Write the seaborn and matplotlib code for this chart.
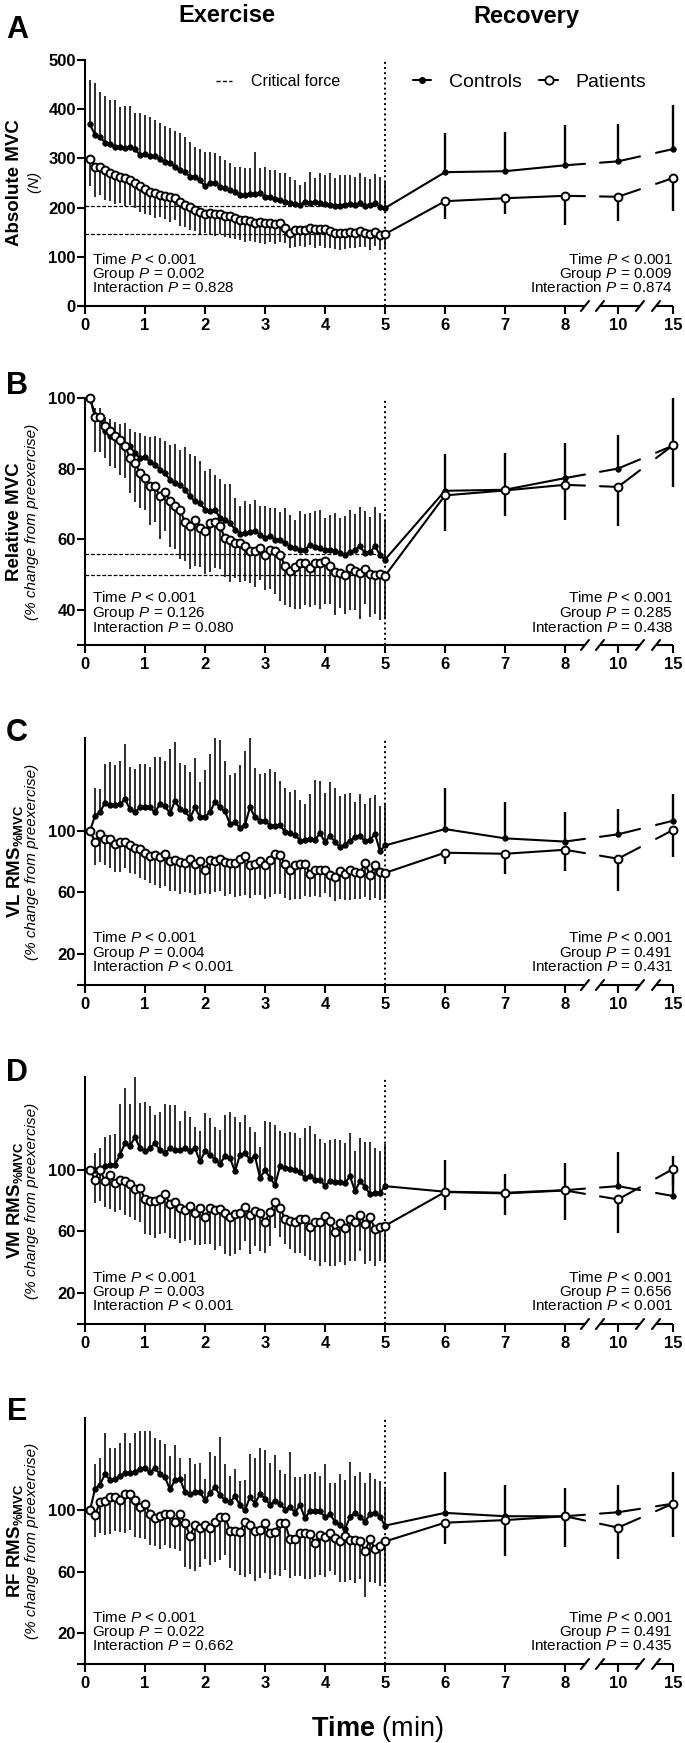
import matplotlib

matplotlib.use("agg")  # no display in the sandbox

import numpy as np
import pandas as pd
import matplotlib.pyplot as plt
import seaborn as sns
from matplotlib.lines import Line2D

# ---------------------------------------------------------------------
# Data. Exercise: one value every 5 s, 5 s .. 300 s
# Recovery: minutes 6, 7, 8, 10, 15. Controls SD drawn up, patients SD down.
# ---------------------------------------------------------------------
ex_time = np.arange(5, 301, 5) / 60
rec_time = [6, 7, 8, 10, 15]

a_ctrl_ex = [369, 348, 344, 332, 329, 324, 324, 322, 323, 319, 307, 308, 305, 304, 298,
             293, 291, 283, 276, 273, 262, 263, 256, 243, 249, 251, 241, 239, 236, 232,
             226, 226, 228, 227, 229, 222, 221, 218, 215, 212, 209, 207, 205, 211, 209,
             211, 209, 207, 206, 204, 204, 206, 207, 205, 210, 204, 205, 209, 201, 199]
a_ctrl_ex_sd = [91, 105, 90, 94, 90, 95, 81, 84, 83, 74, 85, 80, 79, 74, 73,
                73, 70, 73, 75, 71, 72, 61, 64, 71, 65, 59, 63, 58, 55, 51,
                57, 54, 52, 87, 51, 61, 55, 59, 55, 58, 54, 49, 41, 42, 64,
                49, 61, 59, 64, 56, 62, 60, 59, 57, 60, 58, 53, 59, 61, 56]
a_pat_ex = [299, 283, 283, 276, 271, 266, 263, 260, 257, 249, 244, 237, 232, 229, 226,
            224, 222, 219, 212, 205, 201, 195, 191, 188, 190, 188, 188, 183, 182, 178,
            175, 174, 173, 169, 170, 168, 168, 166, 168, 158, 149, 155, 155, 155, 158,
            156, 156, 156, 153, 148, 148, 148, 151, 148, 152, 149, 146, 150, 145, 146]
a_pat_ex_sd = [56, 62, 58, 60, 57, 58, 54, 56, 52, 50, 52, 49, 47, 50, 46,
               48, 51, 45, 49, 44, 46, 42, 44, 40, 43, 45, 41, 43, 44, 42,
               40, 44, 41, 39, 42, 41, 38, 40, 37, 30, 32, 35, 33, 36, 34,
               38, 35, 39, 36, 33, 35, 32, 34, 31, 33, 30, 32, 29, 31, 29]
a_ctrl_rec = [272, 274, 286, 294, 319]
a_ctrl_rec_sd = [79, 79, 81, 75, 90]
a_pat_rec = [213, 219, 224, 222, 260]
a_pat_rec_sd = [36, 31, 59, 49, 67]

b_ctrl_ex = [100, 95.3, 94.3, 90.6, 89.1, 89.1, 87.7, 86.8, 86.3, 84.4, 83.0, 83.2, 82.0, 81.1, 79.7,
             78.7, 76.8, 75.9, 75.4, 74.0, 72.1, 70.7, 70.2, 68.3, 67.9, 68.3, 66.0, 65.5, 64.6, 62.7,
             61.5, 61.7, 61.9, 62.2, 61.3, 60.3, 60.8, 59.8, 59.8, 58.9, 57.8, 57.5, 57.0, 57.0, 58.4,
             57.9, 57.4, 57.0, 56.8, 56.5, 56.1, 55.6, 56.3, 57.0, 58.0, 56.0, 56.3, 58.0, 55.5, 54.2]
b_ctrl_ex_sd = [0, 2, 3, 4, 5, 4, 5, 6, 5, 6, 7, 6, 7, 8, 9,
                9, 10, 11, 10, 12, 12, 13, 12, 11, 12, 10, 11, 10, 11, 9,
                8, 9, 8, 9, 8, 9, 8, 9, 8, 10, 9, 8, 11, 10, 9,
                10, 11, 9, 10, 11, 10, 11, 12, 10, 11, 12, 10, 11, 12, 11]
b_pat_ex = [100, 94.6, 94.6, 92.0, 90.6, 89.1, 88.2, 86.3, 83.0, 81.6, 78.7, 77.3, 75.0, 75.0, 72.1,
            73.3, 70.7, 69.3, 68.3, 64.8, 63.6, 65.5, 63.1, 62.2, 64.6, 64.8, 63.6, 60.3, 59.8, 58.9,
            58.9, 58.1, 56.5, 56.5, 57.5, 55.6, 57.0, 56.5, 55.6, 52.3, 50.9, 52.1, 53.2, 53.2, 51.8,
            53.2, 53.2, 53.7, 52.5, 50.6, 50.4, 49.9, 51.8, 51.0, 50.5, 51.5, 50.0, 49.7, 50.2, 49.6]
b_pat_ex_sd = [0, 10, 10, 9, 10, 9, 10, 9, 10, 11, 10, 9, 11, 10, 12,
               11, 13, 12, 14, 11, 12, 13, 11, 12, 14, 13, 12, 11, 12, 10,
               11, 10, 9, 10, 9, 10, 11, 12, 13, 11, 10, 12, 13, 12, 11,
               12, 13, 12, 11, 12, 10, 11, 12, 11, 13, 10, 12, 11, 13, 12]
b_ctrl_rec = [73.7, 74.0, 77.3, 80.0, 86.5]
b_ctrl_rec_sd = [10.5, 10.4, 9.9, 9.6, 13.5]
b_pat_rec = [72.4, 73.8, 75.4, 74.8, 86.6]
b_pat_rec_sd = [10.0, 7.3, 9.9, 11.2, 11.9]

c_ctrl_ex = [100, 109.6, 111.8, 118.2, 116.7, 116.7, 117.1, 120.3, 113.9, 111.8, 115.0, 115.4, 115.0, 111.8, 117.5,
             116.0, 111.1, 119.3, 113.9, 112.8, 108.1, 115.0, 108.6, 109.0, 111.8, 118.8, 115.0, 112.4, 104.3, 105.3,
             101.7, 103.9, 115.0, 108.6, 106.4, 106.4, 103.2, 103.2, 103.9, 98.9, 98.3, 97.4, 93.6, 94.0, 94.7,
             94.0, 98.3, 92.5, 96.8, 92.5, 89.3, 91.0, 93.6, 95.7, 96.8, 93.0, 94.0, 97.9, 86.7, 90.4]
c_ctrl_ex_sd = [0, 18, 15, 25, 28, 26, 28, 36, 27, 28, 28, 28, 26, 36, 30,
                29, 42, 38, 30, 30, 30, 32, 23, 30, 38, 41, 44, 33, 32, 32,
                41, 48, 45, 32, 30, 31, 37, 35, 28, 29, 27, 29, 26, 23, 29,
                39, 34, 32, 35, 35, 33, 33, 31, 23, 27, 24, 27, 25, 29, 27]
c_pat_ex = [100, 92.5, 97.9, 94.7, 94.7, 91.4, 92.5, 92.5, 90.4, 88.7, 88.2, 85.7, 83.3, 84.0, 82.9,
            85.0, 80.1, 81.2, 79.7, 79.0, 81.4, 78.6, 80.1, 74.3, 81.2, 80.1, 81.8, 79.7, 79.0, 79.0,
            81.8, 83.3, 77.5, 78.6, 80.3, 77.5, 80.7, 85.0, 84.0, 78.6, 74.8, 77.5, 78.6, 78.6, 72.2,
            74.8, 74.8, 74.8, 71.1, 70.1, 73.9, 72.2, 74.3, 73.5, 72.5, 79.0, 71.0, 77.5, 73.0, 72.6]
c_pat_ex_sd = [0, 15, 18, 17, 19, 18, 19, 17, 18, 17, 19, 18, 17, 19, 20,
               21, 19, 20, 21, 19, 22, 20, 21, 15, 22, 20, 21, 22, 20, 22,
               24, 25, 21, 20, 22, 22, 24, 26, 25, 22, 20, 22, 23, 21, 15,
               17, 18, 15, 14, 16, 18, 17, 19, 18, 17, 22, 16, 21, 18, 17]
c_ctrl_rec = [101.0, 95.0, 92.9, 97.6, 106.4]
c_ctrl_rec_sd = [26.4, 23.6, 18.9, 16.3, 17.1]
c_pat_rec = [85.7, 85.0, 87.6, 81.8, 100.4]
c_pat_rec_sd = [7.5, 12.8, 13.7, 20.8, 17.5]

d_ctrl_ex = [100, 100.0, 101.0, 102.1, 103.2, 103.2, 109.6, 117.1, 115.4, 121.0, 113.9, 111.8, 113.9, 117.1, 112.4,
             110.7, 113.9, 112.8, 112.8, 113.9, 111.8, 113.9, 105.3, 111.8, 109.6, 106.4, 103.9, 108.6, 107.5, 98.9,
             109.6, 110.7, 106.4, 108.6, 94.7, 99.6, 94.7, 90.0, 102.1, 101.0, 100.4, 100.0, 98.3, 94.7, 96.1,
             93.2, 93.6, 89.3, 92.5, 91.9, 91.9, 91.4, 95.7, 86.1, 92.5, 89.0, 84.0, 85.0, 85.0, 89.3]
d_ctrl_ex_sd = [0, 11, 13, 19, 19, 20, 33, 36, 27, 39, 29, 32, 27, 18, 25,
                32, 28, 29, 19, 24, 22, 14, 20, 25, 24, 21, 22, 27, 30, 35,
                21, 25, 21, 16, 20, 32, 36, 39, 23, 23, 24, 24, 22, 32, 32,
                30, 26, 28, 27, 28, 27, 26, 28, 26, 28, 29, 34, 29, 27, 27]
d_pat_ex = [100, 93.6, 100.0, 92.5, 96.8, 91.4, 93.6, 92.5, 90.4, 87.2, 87.8, 81.2, 79.7, 79.7, 81.2,
            84.0, 77.5, 79.3, 75.4, 73.9, 76.5, 72.2, 75.4, 69.0, 75.0, 73.9, 74.3, 72.2, 69.0, 71.1,
            72.2, 76.0, 70.5, 73.3, 71.6, 66.2, 72.6, 79.0, 75.4, 67.9, 66.8, 66.2, 67.9, 67.9, 62.6,
            65.8, 65.8, 70.1, 66.8, 59.4, 65.3, 61.9, 67.9, 66.0, 70.5, 65.0, 69.0, 61.5, 63.0, 63.6]
d_pat_ex_sd = [0, 15, 20, 17, 22, 19, 20, 22, 21, 20, 22, 23, 22, 24, 23,
               25, 22, 24, 23, 20, 22, 21, 24, 17, 23, 26, 24, 27, 25, 26,
               24, 22, 25, 23, 24, 20, 22, 17, 19, 16, 18, 20, 22, 24, 21,
               25, 28, 30, 29, 22, 25, 24, 27, 25, 23, 26, 28, 24, 22, 24]
d_ctrl_rec = [85.7, 85.0, 86.7, 89.3, 82.9]
d_ctrl_rec_sd = [20.7, 12.4, 17.6, 22.0, 25.7]
d_pat_rec = [85.5, 84.6, 86.5, 80.7, 100.4]
d_pat_rec_sd = [11.6, 13.9, 19.0, 22.0, 11.0]

e_ctrl_ex = [100, 113.9, 116.7, 123.5, 119.7, 120.3, 122.5, 124.0, 124.0, 125.2, 126.7, 127.8, 124.6, 127.2, 123.5,
             121.4, 113.5, 119.7, 120.3, 111.8, 110.3, 111.8, 111.8, 106.4, 111.1, 115.0, 109.6, 106.8, 105.3, 109.0,
             103.2, 100.0, 108.6, 104.3, 110.7, 107.5, 103.6, 106.0, 104.3, 100.4, 102.1, 98.5, 103.4, 94.7, 99.6,
             99.6, 99.6, 95.3, 97.4, 92.5, 90.4, 87.6, 95.7, 98.3, 95.7, 92.5, 97.4, 98.3, 95.7, 90.0]
e_ctrl_ex_sd = [0, 16, 17, 27, 21, 20, 21, 26, 20, 25, 25, 24, 27, 20, 22,
                22, 22, 23, 14, 12, 24, 18, 19, 14, 27, 20, 38, 23, 17, 18,
                16, 20, 28, 30, 30, 32, 27, 30, 22, 23, 36, 23, 18, 29, 24,
                25, 23, 35, 20, 25, 33, 32, 36, 24, 29, 25, 27, 22, 23, 24]
e_pat_ex = [100, 96.8, 105.3, 106.0, 108.6, 108.6, 106.8, 110.3, 110.3, 106.8, 102.1, 104.3, 97.4, 94.7, 96.1,
            97.4, 97.4, 92.5, 97.4, 91.4, 83.5, 90.4, 88.2, 90.4, 88.2, 92.5, 95.7, 95.7, 86.7, 86.7,
            86.1, 92.5, 90.4, 86.7, 87.2, 91.4, 85.0, 86.1, 91.4, 91.4, 81.2, 81.2, 85.0, 85.0, 84.6,
            78.6, 84.0, 82.5, 85.5, 81.8, 80.3, 83.3, 80.7, 80.7, 80.1, 73.3, 81.2, 74.8, 76.9, 79.7]
e_pat_ex_sd = [0, 14, 20, 22, 24, 22, 21, 25, 23, 24, 20, 23, 20, 18, 21,
               20, 22, 18, 24, 28, 22, 30, 25, 22, 24, 26, 28, 25, 24, 26,
               28, 36, 32, 33, 31, 32, 30, 28, 34, 30, 25, 24, 28, 30, 29,
               22, 26, 26, 25, 24, 27, 30, 26, 28, 25, 30, 28, 22, 26, 27]
e_ctrl_rec = [98.3, 96.1, 96.1, 98.7, 104.3]
e_ctrl_rec_sd = [26.9, 20.4, 18.2, 18.0, 20.3]
e_pat_rec = [91.9, 93.6, 96.1, 88.7, 104.3]
e_pat_rec_sd = [13.7, 23.1, 20.3, 20.4, 21.4]

crit_force_a = [203, 146]
crit_force_b = [55.8, 49.7]

stats_left = {
    "A": ["< 0.001", "= 0.002", "= 0.828"],
    "B": ["< 0.001", "= 0.126", "= 0.080"],
    "C": ["< 0.001", "= 0.004", "< 0.001"],
    "D": ["< 0.001", "= 0.003", "< 0.001"],
    "E": ["< 0.001", "= 0.022", "= 0.662"],
}
stats_right = {
    "A": ["< 0.001", "= 0.009", "= 0.874"],
    "B": ["< 0.001", "= 0.285", "= 0.438"],
    "C": ["< 0.001", "= 0.491", "= 0.431"],
    "D": ["< 0.001", "= 0.656", "< 0.001"],
    "E": ["< 0.001", "= 0.491", "= 0.435"],
}
stat_names = ["Time", "Group", "Interaction"]

# ---------------------------------------------------------------------
# Style
# ---------------------------------------------------------------------
sns.set_style("ticks", {"axes.edgecolor": "black", "xtick.color": "black",
                        "ytick.color": "black", "text.color": "black",
                        "axes.labelcolor": "black"})
plt.rcParams["font.family"] = ["Liberation Sans", "DejaVu Sans"]
plt.rcParams["mathtext.fontset"] = "custom"
plt.rcParams["mathtext.rm"] = "Liberation Sans"
plt.rcParams["mathtext.it"] = "Liberation Sans:italic"
plt.rcParams["mathtext.bf"] = "Liberation Sans:bold"

W, H = 685, 1743
fig = plt.figure(figsize=(W / 100, H / 100), dpi=100)

# broken x axis: minutes 10 and 15 squeezed after 8
rec_pos = {6: 6, 7: 7, 8: 8, 10: 8.883, 15: 9.8}
GAPS = [(8.333, 8.583), (9.25, 9.517)]
XMAX = 9.8


def broken(xs, ys):
    xo, yo = [xs[0]], [ys[0]]
    for x0, y0, x1, y1 in zip(xs[:-1], ys[:-1], xs[1:], ys[1:]):
        for g0, g1 in GAPS:
            if x0 < g0 and x1 > g1:
                ya = y0 + (y1 - y0) * (g0 - x0) / (x1 - x0)
                yb = y0 + (y1 - y0) * (g1 - x0) / (x1 - x0)
                xo += [g0, np.nan, g1]
                yo += [ya, np.nan, yb]
        xo.append(x1)
        yo.append(y1)
    return np.array(xo), np.array(yo)


def draw_group(ax, ex, ex_sd, rec, rec_sd, filled):
    pos = np.concatenate([ex_time, [rec_pos[t] for t in rec_time]])
    vals = np.concatenate([ex, rec])
    sd = np.concatenate([ex_sd, rec_sd])
    lw = [1.15] * len(ex) + [1.7] * len(rec)
    if filled:
        ax.vlines(pos, vals, vals + sd, colors="black", linewidths=lw, zorder=1, clip_on=False)
    else:
        ax.vlines(pos, vals - sd, vals, colors="black", linewidths=lw, zorder=1, clip_on=False)
    xs, ys = broken(pos, vals)
    seg = np.cumsum(np.isnan(xs))
    df = pd.DataFrame({"x": xs, "y": ys, "seg": seg}).dropna()
    sns.lineplot(data=df, x="x", y="y", units="seg", estimator=None, sort=False,
                 color="black", lw=1.5, ax=ax, zorder=2)
    if filled:
        sns.scatterplot(x=pos, y=vals, ax=ax, s=16, color="black", edgecolor="black",
                        linewidth=0.5, zorder=3, clip_on=False)
    else:
        sns.scatterplot(x=pos, y=vals, ax=ax, s=32, color="white", edgecolor="black",
                        linewidth=1.4, zorder=4, clip_on=False)


panels = [
    ("A", 60, 306, (0, 500), [0, 100, 200, 300, 400, 500],
     a_ctrl_ex, a_ctrl_ex_sd, a_ctrl_rec, a_ctrl_rec_sd,
     a_pat_ex, a_pat_ex_sd, a_pat_rec, a_pat_rec_sd,
     "Absolute MVC", "($\\mathit{N}$)", crit_force_a),
    ("B", 398, 645, (30, 100), [40, 60, 80, 100],
     b_ctrl_ex, b_ctrl_ex_sd, b_ctrl_rec, b_ctrl_rec_sd,
     b_pat_ex, b_pat_ex_sd, b_pat_rec, b_pat_rec_sd,
     "Relative MVC", "(% change from preexercise)", crit_force_b),
    ("C", 738, 985, (0, 160), [20, 60, 100],
     c_ctrl_ex, c_ctrl_ex_sd, c_ctrl_rec, c_ctrl_rec_sd,
     c_pat_ex, c_pat_ex_sd, c_pat_rec, c_pat_rec_sd,
     "VL RMS$_{\\mathbf{\\%MVC}}$", "(% change from preexercise)", None),
    ("D", 1077, 1324, (0, 160), [20, 60, 100],
     d_ctrl_ex, d_ctrl_ex_sd, d_ctrl_rec, d_ctrl_rec_sd,
     d_pat_ex, d_pat_ex_sd, d_pat_rec, d_pat_rec_sd,
     "VM RMS$_{\\mathbf{\\%MVC}}$", "(% change from preexercise)", None),
    ("E", 1418, 1664, (0, 160), [20, 60, 100],
     e_ctrl_ex, e_ctrl_ex_sd, e_ctrl_rec, e_ctrl_rec_sd,
     e_pat_ex, e_pat_ex_sd, e_pat_rec, e_pat_rec_sd,
     "RF RMS$_{\\mathbf{\\%MVC}}$", "(% change from preexercise)", None),
]

letter_y = {"A": 30, "B": 386, "C": 733, "D": 1073, "E": 1412}
xticks = [0, 1, 2, 3, 4, 5, 6, 7, 8, rec_pos[10], rec_pos[15]]
xticklabels = ["0", "1", "2", "3", "4", "5", "6", "7", "8", "10", "15"]

for (letter, top, bottom, ylim, yticks, c_ex, c_ex_sd, c_rec, c_rec_sd,
     p_ex, p_ex_sd, p_rec, p_rec_sd, ylab, ysub, crit) in panels:
    ax = fig.add_axes([85 / W, 1 - bottom / H, 588 / W, (bottom - top) / H])
    hpx = bottom - top

    ax.axvline(5, color="black", ls=":", lw=1.4, zorder=0)
    if crit is not None:
        ax.hlines(crit, 0, 5, colors="black", linestyles=(0, (3, 1.5)), lw=0.9, zorder=0)

    draw_group(ax, p_ex, p_ex_sd, p_rec, p_rec_sd, filled=False)
    draw_group(ax, c_ex, c_ex_sd, c_rec, c_rec_sd, filled=True)

    ax.set_xlim(0, XMAX)
    ax.set_ylim(*ylim)
    ax.set_xlabel("")
    ax.set_ylabel("")
    ax.set_xticks(xticks)
    ax.set_xticklabels(xticklabels)
    ax.set_yticks(yticks)
    ax.set_yticklabels([str(v) for v in yticks])
    ax.tick_params(axis="both", direction="out", length=5.5, width=1.5, labelsize=12)
    ax.tick_params(axis="x", pad=3)
    ax.tick_params(axis="y", pad=1)
    for lab in ax.get_xticklabels() + ax.get_yticklabels():
        lab.set_fontweight("bold")
    for s in ["top", "right", "bottom"]:
        ax.spines[s].set_visible(False)
    ax.spines["left"].set_linewidth(1.5)

    # broken bottom axis line + slashes
    xt = ax.get_xaxis_transform()
    segs = [(-8 / 60, GAPS[0][0]), (GAPS[0][1], GAPS[1][0]), (GAPS[1][1], XMAX)]
    for s0, s1 in segs:
        ax.plot([s0, s1], [0, 0], color="black", lw=1.5, transform=xt, clip_on=False,
                solid_capstyle="butt", zorder=5)
    dy = 5 / hpx
    for g in GAPS:
        for gx in g:
            ax.plot([gx - 4 / 60, gx + 4 / 60], [-dy, dy], color="black", lw=1.5,
                    transform=xt, clip_on=False, zorder=5)

    # statistics text
    for k, (name, lval, rval) in enumerate(zip(stat_names, stats_left[letter], stats_right[letter])):
        yb = (42.5 - 14.5 * k) / hpx
        ax.text(7 / 588, yb, f"{name} $\\mathit{{P}}$ {lval}", transform=ax.transAxes,
                ha="left", va="baseline", fontsize=11)
        ax.text(1.0, yb, f"{name} $\\mathit{{P}}$ {rval}", transform=ax.transAxes,
                ha="right", va="baseline", fontsize=11)

    # y labels and panel letter
    yc = 1 - (top + bottom) / 2 / H
    fig.text(15 / W, yc, ylab, rotation=90, ha="center", va="center",
             fontsize=13.5, fontweight="bold")
    fig.text((35 if letter == "A" else 32) / W, yc, ysub, rotation=90, ha="center",
             va="center", fontsize=11, style="italic")
    fig.text(17 / W, 1 - letter_y[letter] / H, letter, ha="center", va="center",
             fontsize=22, fontweight="bold")

    if letter == "A":
        ax_a = ax

# legends on panel A
h_ctrl = Line2D([], [], color="black", lw=1.5, marker="o", ms=4, mfc="black", mec="black")
h_pat = Line2D([], [], color="black", lw=1.5, marker="o", ms=6, mfc="white", mec="black", mew=1.3)
leg = ax_a.legend([h_ctrl, h_pat], ["Controls", "Patients"], ncol=2, frameon=False,
                  fontsize=14, loc="center left", bbox_to_anchor=(413 / W, 1 - 82 / H),
                  bbox_transform=fig.transFigure, handlelength=0.95, handletextpad=0.9,
                  columnspacing=0.9, borderpad=0, borderaxespad=0)
ax_a.add_artist(leg)
h_crit = Line2D([], [], color="black", lw=1.0, ls=(0, (3, 1.6)))
ax_a.legend([h_crit], ["Critical force"], frameon=False, fontsize=11.5, loc="center left",
            bbox_to_anchor=(216 / W, 1 - 82 / H), bbox_transform=fig.transFigure,
            handlelength=1.0, handletextpad=1.2, borderpad=0, borderaxespad=0)

# headers and x title
fig.text(227 / W, 1 - 16 / H, "Exercise", ha="center", va="center", fontsize=17, fontweight="bold")
fig.text(526 / W, 1 - 16 / H, "Recovery", ha="center", va="center", fontsize=17, fontweight="bold")
fig.text(377 / W, 1 - 1736 / H, "$\\mathbf{Time}$ (min)", ha="center", va="baseline", fontsize=19.5)

fig.savefig("out.png", dpi=100)
